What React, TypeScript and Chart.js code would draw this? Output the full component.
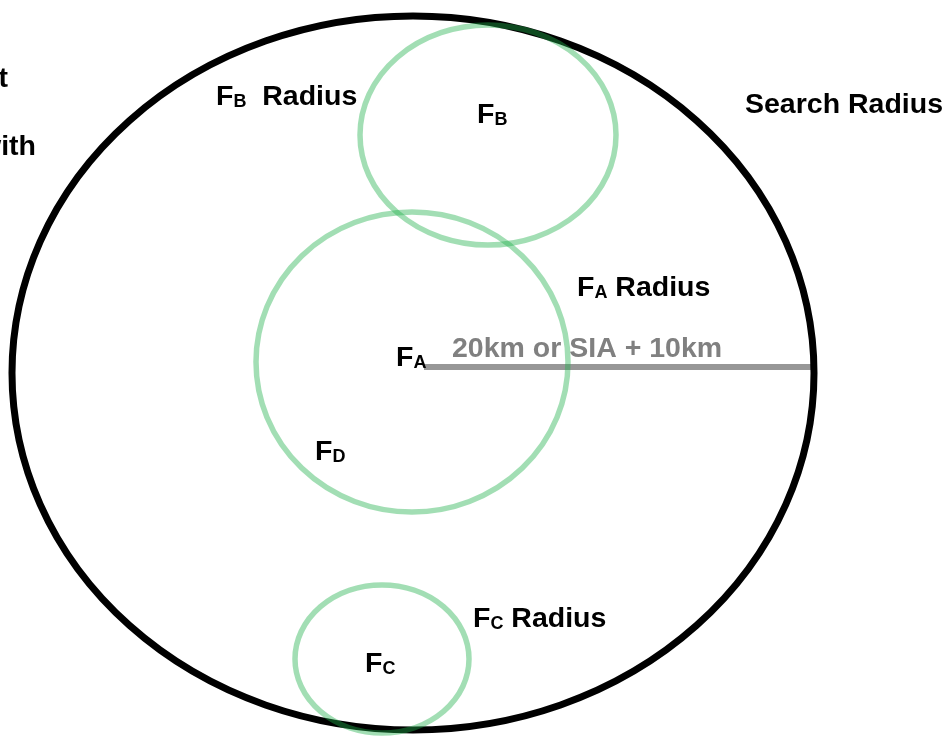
import React, { useEffect, useRef } from "react";
import { Chart, registerables } from "chart.js";

Chart.register(...registerables);

// Ellipses (search radius + facility radii), in diagram units
const shapeNames = ["Search Radius", "FA Radius", "FB Radius", "FC Radius"];
const shapeCx = [413, 412, 488, 382];
const shapeCy = [373, 362, 135, 659];
const shapeRx = [401, 156, 128, 87];
const shapeRy = [357, 150, 110, 74];

// Radius measure line
const radiusLineX = [424, 811];
const radiusLineY = [367, 367];

// Text labels: main text, subscript, trailing text, anchor x, baseline y
const labelMain = ["F", "F", "F", "F", "F", "F", "F", "Search Radius", "t", "with"];
const labelSub = ["B", "B", "A", "A", "D", "C", "C", "", "", ""];
const labelTail = ["  Radius", "", " Radius", "", "", " Radius", "", "", "", ""];
const labelX = [216, 477, 577, 396, 315, 473, 365, 745, 8, 36];
const labelY = [105, 123, 296, 366, 460, 627, 672, 113, 87, 155];
const labelAlign = ["left", "left", "left", "left", "left", "left", "left", "left", "right", "right"];

const noteText = "20km or SIA + 10km";
const noteX = 452;
const noteY = 357;

const FONT = '"Liberation Sans", Arial, sans-serif';
const BIG = 28.5;
const SUB = 18;

const diagramPlugin = {
  id: "diagram",
  afterDatasetsDraw(chart: any) {
    const { ctx, scales } = chart;
    const xs = scales.x;
    const ys = scales.y;
    ctx.save();
    shapeNames.forEach((_, i) => {
      const cx = xs.getPixelForValue(shapeCx[i]);
      const cy = ys.getPixelForValue(shapeCy[i]);
      const rx = Math.abs(xs.getPixelForValue(shapeCx[i] + shapeRx[i]) - cx);
      const ry = Math.abs(ys.getPixelForValue(shapeCy[i] + shapeRy[i]) - cy);
      ctx.beginPath();
      ctx.ellipse(cx, cy, rx, ry, 0, 0, Math.PI * 2);
      if (i === 0) {
        ctx.strokeStyle = "#000000";
        ctx.lineWidth = 7;
      } else {
        ctx.strokeStyle = "rgba(34,177,76,0.42)";
        ctx.lineWidth = 5.5;
      }
      ctx.stroke();
    });

    // gray note
    ctx.fillStyle = "#808080";
    ctx.font = `bold ${BIG}px ${FONT}`;
    ctx.textAlign = "left";
    ctx.textBaseline = "alphabetic";
    ctx.fillText(noteText, xs.getPixelForValue(noteX), ys.getPixelForValue(noteY));

    // labels
    ctx.fillStyle = "#000000";
    labelMain.forEach((m, i) => {
      const px = xs.getPixelForValue(labelX[i]);
      const py = ys.getPixelForValue(labelY[i]);
      if (labelAlign[i] === "right") {
        ctx.font = `bold ${BIG}px ${FONT}`;
        ctx.textAlign = "right";
        ctx.fillText(m, px, py);
        return;
      }
      ctx.textAlign = "left";
      ctx.font = `bold ${BIG}px ${FONT}`;
      ctx.fillText(m, px, py);
      let cur = px + ctx.measureText(m).width;
      if (labelSub[i]) {
        ctx.font = `bold ${SUB}px ${FONT}`;
        ctx.fillText(labelSub[i], cur, py + 2);
        cur += ctx.measureText(labelSub[i]).width;
      }
      if (labelTail[i]) {
        ctx.font = `bold ${BIG}px ${FONT}`;
        ctx.fillText(labelTail[i], cur, py);
      }
    });
    ctx.restore();
  },
};

export default function App() {
  const ref = useRef<HTMLCanvasElement | null>(null);
  useEffect(() => {
    document.body.style.margin = "0";
    if (!ref.current) return;
    const chart = new Chart(ref.current, {
      type: "scatter",
      data: {
        datasets: [
          {
            label: "Radius line",
            data: radiusLineX.map((x, i) => ({ x, y: radiusLineY[i] })),
            showLine: true,
            borderColor: "rgba(140,140,140,0.9)",
            borderWidth: 6,
            pointRadius: 0,
            borderCapStyle: "butt",
          } as any,
        ],
      },
      options: {
        animation: false,
        responsive: false,
        maintainAspectRatio: false,
        layout: { padding: 0 },
        plugins: { legend: { display: false }, tooltip: { enabled: false } },
        scales: {
          x: { type: "linear", min: 0, max: 951, display: false },
          y: { type: "linear", min: 0, max: 736, reverse: true, display: false },
        },
      },
      plugins: [diagramPlugin],
    });
    return () => chart.destroy();
  }, []);
  return (
    <div style={{ position: "absolute", left: 0, top: 0, width: 951, height: 736, background: "#fff" }}>
      <canvas ref={ref} width={951} height={736} />
    </div>
  );
}
